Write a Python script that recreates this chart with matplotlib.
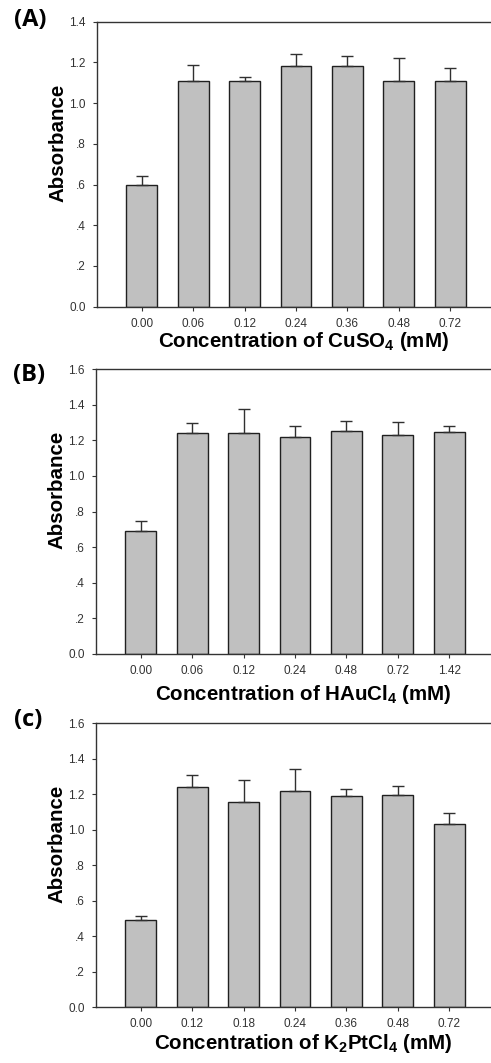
import numpy as np
import matplotlib
matplotlib.use("Agg")
import matplotlib.pyplot as plt

plt.rcParams['font.family'] = ['Liberation Sans', 'DejaVu Sans']
plt.rcParams['mathtext.default'] = 'regular'

# panel A - CuSO4
cu_labels = ['0.00', '0.06', '0.12', '0.24', '0.36', '0.48', '0.72']
cu_mean = [0.60, 1.11, 1.11, 1.18, 1.18, 1.11, 1.11]
cu_err = [0.04, 0.075, 0.02, 0.06, 0.05, 0.11, 0.065]

# panel B - HAuCl4
au_labels = ['0.00', '0.06', '0.12', '0.24', '0.48', '0.72', '1.42']
au_mean = [0.69, 1.24, 1.24, 1.22, 1.25, 1.23, 1.245]
au_err = [0.055, 0.058, 0.135, 0.06, 0.06, 0.07, 0.035]

# panel C - K2PtCl4
pt_labels = ['0.00', '0.12', '0.18', '0.24', '0.36', '0.48', '0.72']
pt_mean = [0.49, 1.24, 1.155, 1.217, 1.19, 1.198, 1.035]
pt_err = [0.025, 0.07, 0.127, 0.127, 0.041, 0.049, 0.062]

panels = [
    ('(A)', cu_labels, cu_mean, cu_err, 1.4, r'Concentration of CuSO$_4$ (mM)'),
    ('(B)', au_labels, au_mean, au_err, 1.6, r'Concentration of HAuCl$_4$ (mM)'),
    ('(c)', pt_labels, pt_mean, pt_err, 1.6, r'Concentration of K$_2$PtCl$_4$ (mM)'),
]

W, H = 491, 1063
fig = plt.figure(figsize=(W / 100, H / 100), dpi=100)

# pixel boxes: left, top, right, bottom
boxes = [(97, 21.7, 495, 306.7), (96, 369, 494, 654), (96, 723.3, 494, 1007.3)]
tag_pos = [(30, 20), (29, 375), (28, 720)]
xlabel_y = [-0.082, -0.100, -0.088]


def fmt(v):
    s = '%.1f' % v
    if 0 < v < 1:
        s = s[1:]
    return s


for i, ((tag, labels, mean, err, ymax, xlabel), (l, t, r, b), (tx, ty)) in enumerate(zip(panels, boxes, tag_pos)):
    ax = fig.add_axes([l / W, 1 - b / H, (r - l) / W, (b - t) / H])
    x = np.arange(len(labels))
    ax.bar(x, mean, width=0.6, color='#c0c0c0', edgecolor='#202020', linewidth=1.0, zorder=2)
    ax.errorbar(x, mean, yerr=[np.zeros(len(err)), err], fmt='none', ecolor='#303030',
                elinewidth=1.0, capsize=4, capthick=1.0, zorder=3)
    ax.set_xlim(-0.87, len(labels) - 1 + 0.87)
    ax.set_ylim(0, ymax)
    yt = np.arange(0, ymax + 0.01, 0.2)
    ax.set_yticks(yt)
    ax.set_yticklabels([fmt(v) for v in yt])
    ax.set_xticks(x)
    ax.set_xticklabels(labels)
    ax.tick_params(axis='both', direction='out', length=3, width=0.8, labelsize=8.5,
                   labelcolor='#333333', color='#333333')
    ax.tick_params(axis='y', pad=5)
    ax.tick_params(axis='x', pad=5)
    for s in ['left', 'bottom', 'top']:
        ax.spines[s].set_linewidth(1.0)
        ax.spines[s].set_color('#333333')
    ax.spines['right'].set_visible(False)
    ax.set_ylabel('Absorbance', fontsize=14.8, fontweight='bold')
    ax.yaxis.set_label_coords(-0.075, 0.575)
    ax.set_xlabel(xlabel, fontsize=14.8, fontweight='bold')
    ax.xaxis.set_label_coords(0.52, xlabel_y[i])
    fig.text(tx / W, 1 - ty / H, tag, fontsize=17, fontweight='bold',
             family=['Open Sans', 'DejaVu Sans'], ha='center', va='center')

fig.savefig('out.png', dpi=100)
